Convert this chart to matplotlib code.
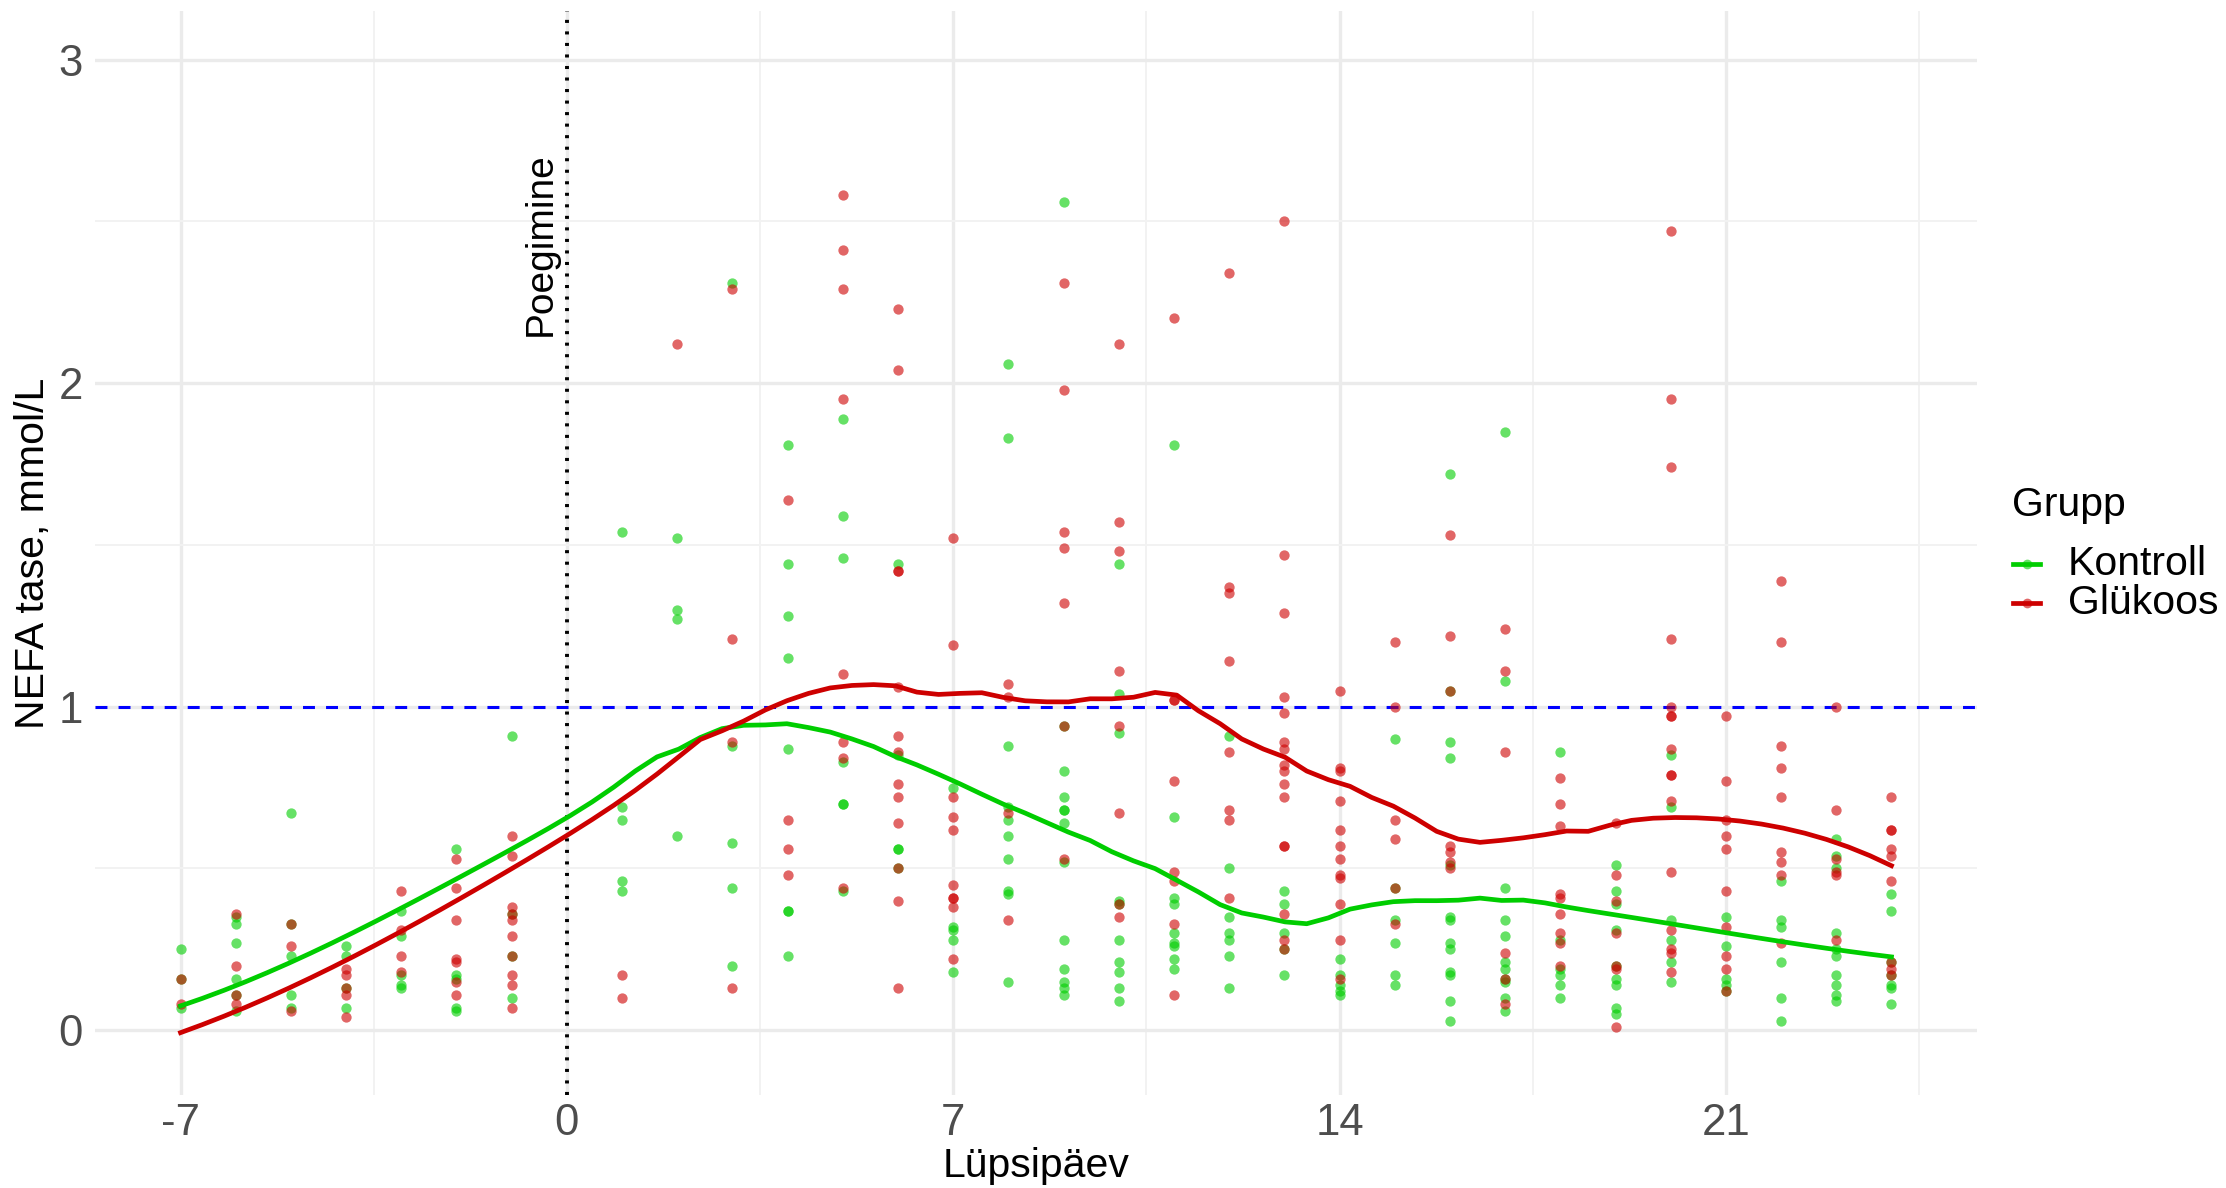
import numpy as np
import matplotlib
matplotlib.use('Agg')
import matplotlib.pyplot as plt
from matplotlib.lines import Line2D

plt.rcParams['font.family'] = ['Liberation Sans', 'DejaVu Sans']
plt.rcParams['lines.scale_dashes'] = False

# lüpsipäevad (päeva 0 mõõtmisi pole)
days = [-7, -6, -5, -4, -3, -2, -1, 1, 2, 3, 4, 5, 6, 7, 8, 9, 10, 11, 12,
        13, 14, 15, 16, 17, 18, 19, 20, 21, 22, 23, 24]

# NEFA väärtused iga päeva kohta, mmol/L
kontroll = [
    [0.25, 0.16, 0.07],
    [0.35, 0.33, 0.27, 0.16, 0.11, 0.06],
    [0.67, 0.33, 0.23, 0.11, 0.07],
    [0.26, 0.23, 0.13, 0.07],
    [0.37, 0.29, 0.17, 0.14, 0.13],
    [0.56, 0.17, 0.16, 0.07, 0.06],
    [0.91, 0.36, 0.23, 0.10],
    [1.54, 0.69, 0.65, 0.46, 0.43],
    [1.52, 1.30, 1.27, 0.60],
    [2.31, 0.88, 0.58, 0.44, 0.20],
    [1.81, 1.44, 1.28, 1.15, 0.87, 0.37, 0.37, 0.23],
    [1.89, 1.59, 1.46, 0.83, 0.70, 0.70, 0.43],
    [1.44, 0.85, 0.56, 0.56, 0.50],
    [0.75, 0.32, 0.31, 0.28, 0.18],
    [2.06, 1.83, 0.88, 0.69, 0.65, 0.60, 0.53, 0.43, 0.42, 0.15],
    [2.56, 0.94, 0.80, 0.72, 0.68, 0.68, 0.64, 0.52, 0.28, 0.19, 0.15, 0.13, 0.11],
    [1.44, 1.04, 0.92, 0.40, 0.39, 0.28, 0.21, 0.18, 0.13, 0.09],
    [1.81, 0.66, 0.41, 0.39, 0.30, 0.27, 0.26, 0.22, 0.19],
    [0.91, 0.50, 0.35, 0.30, 0.28, 0.23, 0.13],
    [0.43, 0.39, 0.30, 0.25, 0.17],
    [0.22, 0.17, 0.14, 0.12, 0.11],
    [0.90, 0.44, 0.34, 0.27, 0.17, 0.14],
    [1.72, 1.05, 0.89, 0.84, 0.51, 0.35, 0.34, 0.27, 0.25, 0.18, 0.17, 0.09, 0.03],
    [1.85, 1.08, 0.44, 0.34, 0.29, 0.21, 0.19, 0.16, 0.15, 0.10, 0.06],
    [0.86, 0.28, 0.19, 0.17, 0.14, 0.10],
    [0.51, 0.43, 0.39, 0.31, 0.20, 0.16, 0.14, 0.07, 0.05],
    [0.85, 0.69, 0.34, 0.28, 0.21, 0.15],
    [0.35, 0.26, 0.16, 0.14, 0.12],
    [0.46, 0.34, 0.32, 0.21, 0.10, 0.03],
    [0.59, 0.54, 0.50, 0.30, 0.25, 0.23, 0.17, 0.14, 0.11, 0.09],
    [0.42, 0.37, 0.21, 0.17, 0.14, 0.13, 0.08],
]

glukoos = [
    [0.16, 0.08],
    [0.36, 0.20, 0.11, 0.08],
    [0.33, 0.26, 0.06],
    [0.19, 0.17, 0.13, 0.11, 0.04],
    [0.43, 0.31, 0.23, 0.18],
    [0.53, 0.44, 0.34, 0.22, 0.21, 0.15, 0.11],
    [0.60, 0.54, 0.38, 0.36, 0.34, 0.29, 0.23, 0.17, 0.14, 0.07],
    [0.17, 0.10],
    [2.12],
    [2.29, 1.21, 0.89, 0.13],
    [1.64, 0.65, 0.56, 0.48],
    [2.58, 2.41, 2.29, 1.95, 1.10, 0.89, 0.84, 0.44],
    [2.23, 2.04, 1.42, 1.42, 1.06, 0.91, 0.86, 0.76, 0.72, 0.64, 0.50, 0.40, 0.13],
    [1.52, 1.19, 0.72, 0.66, 0.62, 0.45, 0.41, 0.41, 0.38, 0.22],
    [1.07, 1.03, 0.67, 0.34],
    [2.31, 1.98, 1.54, 1.49, 1.32, 0.94, 0.53],
    [2.12, 1.57, 1.48, 1.11, 0.94, 0.67, 0.39, 0.35],
    [2.20, 1.02, 1.02, 0.77, 0.49, 0.46, 0.33, 0.11],
    [2.34, 1.37, 1.35, 1.14, 0.86, 0.68, 0.65, 0.41],
    [2.50, 1.47, 1.29, 1.03, 0.98, 0.89, 0.87, 0.82, 0.80, 0.76, 0.72, 0.57, 0.57, 0.36, 0.28, 0.25],
    [1.05, 0.81, 0.80, 0.71, 0.62, 0.57, 0.53, 0.48, 0.47, 0.39, 0.28, 0.16],
    [1.20, 1.00, 0.65, 0.59, 0.44, 0.33],
    [1.53, 1.22, 1.05, 0.57, 0.55, 0.52, 0.50],
    [1.24, 1.11, 0.86, 0.24, 0.16, 0.08],
    [0.78, 0.70, 0.63, 0.42, 0.41, 0.36, 0.30, 0.27, 0.20],
    [0.64, 0.48, 0.40, 0.30, 0.20, 0.19, 0.01],
    [2.47, 1.95, 1.74, 1.21, 1.00, 0.97, 0.97, 0.87, 0.79, 0.79, 0.71, 0.49, 0.31, 0.25, 0.24, 0.18],
    [0.97, 0.77, 0.65, 0.60, 0.56, 0.43, 0.32, 0.23, 0.19, 0.12],
    [1.39, 1.20, 0.88, 0.81, 0.72, 0.55, 0.52, 0.48, 0.27],
    [1.00, 0.68, 0.53, 0.49, 0.48, 0.28],
    [0.72, 0.62, 0.62, 0.56, 0.54, 0.46, 0.21, 0.19, 0.17],
]

groups = ['Kontroll', 'Glükoos']
colors = {'Kontroll': '#00CD00', 'Glükoos': '#CD0000'}
SPAN = 0.5


def flatten(day_list, values):
    xs, ys = [], []
    for d, vals in zip(day_list, values):
        xs += [d] * len(vals)
        ys += vals
    return np.array(xs, float), np.array(ys, float)


def loess(x, y, xgrid, span):
    # lokaalne ruutregressioon tricube kaaludega (nagu R loess)
    n = len(x)
    q = int(np.floor(n * span))
    out = []
    for x0 in xgrid:
        d = np.abs(x - x0)
        h = np.sort(d)[q - 1]
        w = np.clip(1 - (d / h) ** 3, 0, None) ** 3
        X = np.vstack([np.ones(n), x - x0, (x - x0) ** 2]).T
        W = np.sqrt(w)
        beta = np.linalg.lstsq(X * W[:, None], y * W, rcond=None)[0]
        out.append(beta[0])
    return np.array(out)


W, H = 2226, 1188
fig = plt.figure(figsize=(W / 100, H / 100), dpi=100)
ax = fig.add_axes([95 / W, 1 - 1095 / H, (1977 - 95) / W, (1095 - 11) / H])

data = {'Kontroll': flatten(days, kontroll), 'Glükoos': flatten(days, glukoos)}

for g in groups:
    x, y = data[g]
    ax.scatter(x, y, s=55, color=colors[g], alpha=0.6, linewidths=0, zorder=3)

for g in groups:
    x, y = data[g]
    xg = np.linspace(x.min(), x.max(), 80)
    ax.plot(xg, loess(x, y, xg, SPAN), color=colors[g], lw=3.4, zorder=4)

ax.axhline(1, color='#0000FF', lw=2.2, dashes=(8.6, 8), zorder=2)
ax.axvline(0, color='black', lw=2.8, dashes=(2.2, 6.1), zorder=2)
ax.text(-0.48, 2.43, 'Poegimine', rotation=90, ha='center', va='center',
        fontsize=28, color='black')

ax.set_xlim(-8.55, 25.55)
ax.set_ylim(-0.2, 3.15)
ax.set_xticks([-7, 0, 7, 14, 21])
ax.set_xticklabels(['-7', '0', '7', '14', '21'])
ax.set_xticks([-3.5, 3.5, 10.5, 17.5, 24.5], minor=True)
ax.set_yticks([0, 1, 2, 3])
ax.set_yticks([0.5, 1.5, 2.5], minor=True)
ax.grid(True, which='major', color='#EBEBEB', lw=2.4, zorder=0)
ax.grid(True, which='minor', color='#F2F2F2', lw=1.4, zorder=0)
ax.set_axisbelow(True)
for s in ax.spines.values():
    s.set_visible(False)
ax.tick_params(which='both', length=0, labelsize=31.5, labelcolor='#4D4D4D')
ax.tick_params(axis='x', pad=6)
ax.tick_params(axis='y', pad=8.6)

# telgede pealkirjad
fig.text(1036 / W, 1 - 1177 / H, 'Lüpsipäev', fontsize=29.5, ha='center', va='baseline')
fig.text(33 / W, 1 - 553 / H, 'NEFA tase, mmol/L', fontsize=29.5, rotation=90,
         ha='center', va='center')

# legend
fig.text(2012 / W, 1 - 505 / H, 'Grupp', fontsize=29.5, ha='left', va='center')
for g, ypix in zip(groups, [564, 603]):
    yf = 1 - ypix / H
    fig.add_artist(Line2D([2013 / W, 2040 / W], [yf, yf], color=colors[g], lw=3.4,
                          transform=fig.transFigure))
    fig.add_artist(Line2D([2026.5 / W], [yf], marker='o', ms=7, color=colors[g],
                          alpha=0.6, markeredgewidth=0, transform=fig.transFigure))
    fig.text(2068 / W, yf, g, fontsize=29.5, ha='left', va='center')

fig.savefig('out.png', dpi=100)
